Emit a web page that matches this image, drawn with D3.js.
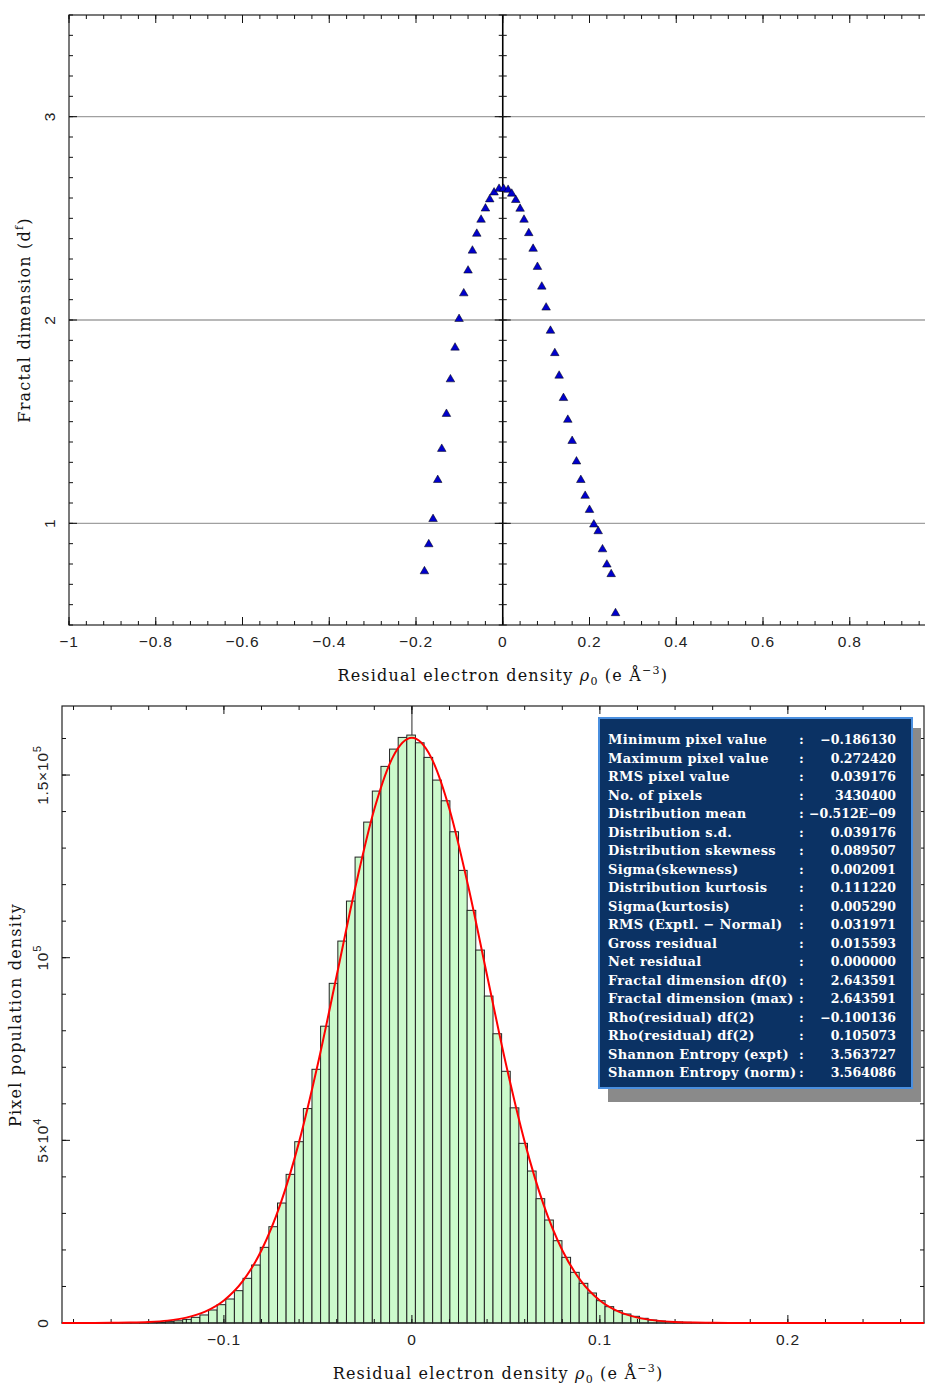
<!DOCTYPE html>
<html lang="en">
<meta charset="utf-8">
<head>
  <script src="https://d3js.org/d3.v7.min.js"></script>
</head>
<style>
  body { margin: 0; background: #fff; }
  svg { display: block; overflow: hidden; }
  .tick-lbl { font-family: "Liberation Sans Narrow", "Liberation Sans", Arial, sans-serif; font-size: 15.5px; letter-spacing: 0.8px; fill: #222; }
  .title { font-family: "DejaVu Serif", "Liberation Serif", serif; font-size: 16px; letter-spacing: 1.2px; fill: #111; }
  .stat { font-family: "DejaVu Serif", "Liberation Serif", serif; font-size: 13px; letter-spacing: 0.3px; font-weight: bold; fill: #fff; }
  .stat-val { font-family: "DejaVu Serif", "Liberation Serif", serif; font-size: 12.5px; font-weight: bold; fill: #fff; }
</style>
<body>
<div id="chart"></div>
<script>
// ---- fractal dimension vs residual density (top panel)
const fdX = [-0.1805, -0.1706, -0.1607, -0.1499, -0.1406, -0.1298, -0.1206, -0.1100, -0.1007, -0.0899,
             -0.0800, -0.0699, -0.0599, -0.0500, -0.0399, -0.0300, -0.0200, -0.0085, 0.0020, 0.0123,
             0.0207, 0.0300, 0.0400, 0.0490, 0.0600, 0.0700, 0.0800, 0.0900, 0.1000, 0.1100,
             0.1200, 0.1300, 0.1400, 0.1500, 0.1600, 0.1700, 0.1800, 0.1900, 0.2000, 0.2100,
             0.2200, 0.2300, 0.2400, 0.2500, 0.2600];
const fdY = [0.764, 0.897, 1.021, 1.213, 1.366, 1.538, 1.708, 1.864, 2.005, 2.131,
             2.243, 2.341, 2.424, 2.493, 2.548, 2.593, 2.627, 2.645, 2.645, 2.640,
             2.621, 2.590, 2.547, 2.493, 2.427, 2.350, 2.261, 2.164, 2.061, 1.947,
             1.837, 1.726, 1.616, 1.509, 1.405, 1.304, 1.213, 1.135, 1.066, 0.994,
             0.961, 0.872, 0.797, 0.750, 0.558];
const topXTicks = [-1, -0.8, -0.6, -0.4, -0.2, 0, 0.2, 0.4, 0.6, 0.8];
const topXLabels = ["\u22121", "\u22120.8", "\u22120.6", "\u22120.4", "\u22120.2", "0", "0.2", "0.4", "0.6", "0.8"];
const topYTicks = [1, 2, 3];

// ---- histogram of pixel values (bottom panel)
const binMin = -0.186130, binMax = 0.272420;
const binCounts = [1, 1, 2, 4, 6, 10, 18, 30, 50, 85,
                   140, 230, 380, 600, 1000, 1550, 2200, 3560, 5020, 6570,
                   8850, 12230, 15870, 20710, 26360, 32840, 40690, 49630, 58700, 69450,
                   81250, 92980, 104550, 115500, 127540, 137120, 145610, 152370, 157100, 160300,
                   160940, 158830, 154830, 148620, 142950, 134470, 123900, 112960, 102090, 89500,
                   79180, 68900, 58900, 49180, 41600, 34030, 28190, 22530, 17980, 13870,
                   10860, 8210, 6110, 4470, 3380, 2460, 1830, 1280, 820, 550,
                   400, 270, 190, 130, 90, 60, 42, 28, 19, 13,
                   9, 6, 4, 3, 2, 2, 1, 1, 1, 1,
                   0, 0, 1, 0, 0, 0, 0, 0, 0, 1];
// fitted normal curve
const normX = [-0.18613, -0.18, -0.17, -0.16, -0.15, -0.14, -0.13, -0.12, -0.11, -0.10,
               -0.09, -0.08, -0.07, -0.06, -0.05, -0.04, -0.03, -0.02, -0.01, 0,
               0.01, 0.02, 0.03, 0.04, 0.05, 0.06, 0.07, 0.08, 0.09, 0.10,
               0.11, 0.12, 0.13, 0.14, 0.15, 0.16, 0.17, 0.18, 0.19, 0.20,
               0.21, 0.22, 0.23, 0.24, 0.25, 0.26, 0.27, 0.27242];
const normY = [2, 4, 13, 38, 105, 270, 651, 1470, 3109, 6164,
               11450, 19920, 32460, 49580, 70950, 95120, 119480, 140620, 155050, 160190,
               155050, 140620, 119480, 95120, 70950, 49580, 32460, 19920, 11450, 6164,
               3109, 1470, 651, 270, 105, 38, 13, 4, 1, 0,
               0, 0, 0, 0, 0, 0, 0, 0];
const botXTicks = [-0.1, 0, 0.1, 0.2];
const botXLabels = ["\u22120.1", "0", "0.1", "0.2"];
const botYTicks = [0, 50000, 100000, 150000];

const statNames = ["Minimum pixel value", "Maximum pixel value", "RMS pixel value", "No. of pixels",
  "Distribution mean", "Distribution s.d.", "Distribution skewness", "Sigma(skewness)",
  "Distribution kurtosis", "Sigma(kurtosis)", "RMS (Exptl. \u2212 Normal)", "Gross residual",
  "Net residual", "Fractal dimension df(0)", "Fractal dimension (max)", "Rho(residual) df(2)",
  "Rho(residual) df(2)", "Shannon Entropy (expt)", "Shannon Entropy (norm)"];
const statValues = ["\u22120.186130", "0.272420", "0.039176", "3430400", "\u22120.512E\u221209",
  "0.039176", "0.089507", "0.002091", "0.111220", "0.005290", "0.031971", "0.015593",
  "0.000000", "2.643591", "2.643591", "\u22120.100136", "0.105073", "3.563727", "3.564086"];

const svg = d3.select("#chart").append("svg")
  .attr("width", 925).attr("height", 1387);

// little helper: tick marks along one edge
function ticks(g, vals, pos, len, orient) {
  g.selectAll(null).data(vals).enter().append("line")
    .attr("x1", d => orient === "h" ? pos(d) : len[0])
    .attr("x2", d => orient === "h" ? pos(d) : len[1])
    .attr("y1", d => orient === "h" ? len[0] : pos(d))
    .attr("y2", d => orient === "h" ? len[1] : pos(d))
    .attr("stroke", "#111").attr("stroke-width", 1);
}
function range(a, b, s) { return d3.range(Math.round(a / s), Math.round(b / s) + 1).map(i => +(i * s).toFixed(6)); }

// axis title with rho_0 and A^-3
function densityTitle(g, x, y) {
  const t = g.append("text").attr("class", "title").attr("text-anchor", "middle")
    .attr("x", x).attr("y", y);
  t.append("tspan").text("Residual electron density ");
  t.append("tspan").attr("font-style", "italic").text("\u03c1");
  t.append("tspan").attr("font-size", "11px").attr("dy", 4).text("0");
  t.append("tspan").attr("dy", -4).text(" (e \u00c5");
  t.append("tspan").attr("font-size", "11px").attr("dy", -7).text("\u22123");
  t.append("tspan").attr("dy", 7).text(")");
}

/* ================= top panel ================= */
const x1 = d3.scaleLinear().domain([-1, 1]).range([69, 936.5]);
const y1 = d3.scaleLinear().domain([0.5, 3.5]).range([625, 15]);
const topG = svg.append("g");

topG.selectAll(".grid").data(topYTicks).enter().append("line")
  .attr("x1", x1(-1)).attr("x2", x1(1))
  .attr("y1", d => y1(d)).attr("y2", d => y1(d))
  .attr("stroke", "#a0a0a0").attr("stroke-width", 1.4);

topG.append("rect")
  .attr("x", x1(-1)).attr("y", y1(3.5))
  .attr("width", x1(1) - x1(-1)).attr("height", y1(0.5) - y1(3.5))
  .attr("fill", "none").attr("stroke", "#222").attr("stroke-width", 1.2);

// x ticks bottom & top
const tMinor = range(-1, 1, 0.04);
ticks(topG, tMinor, x1, [y1(0.5), y1(0.5) - 4], "h");
ticks(topG, topXTicks, x1, [y1(0.5), y1(0.5) - 8], "h");
ticks(topG, tMinor, x1, [y1(3.5), y1(3.5) + 4], "h");
ticks(topG, topXTicks, x1, [y1(3.5), y1(3.5) + 8], "h");
// y ticks left
const yMinor1 = range(0.5, 3.5, 0.1);
ticks(topG, yMinor1, y1, [x1(-1), x1(-1) + 4], "v");
ticks(topG, topYTicks, y1, [x1(-1), x1(-1) + 8], "v");

// zero line with its own ticks
topG.append("line")
  .attr("x1", x1(0)).attr("x2", x1(0)).attr("y1", y1(3.5)).attr("y2", y1(0.5))
  .attr("stroke", "#000").attr("stroke-width", 1.6);
ticks(topG, yMinor1, y1, [x1(0) - 4, x1(0) + 4], "v");
ticks(topG, topYTicks, y1, [x1(0) - 8, x1(0) + 8], "v");

topG.selectAll(".xl").data(topXTicks).enter().append("text")
  .attr("class", "tick-lbl").attr("text-anchor", "middle")
  .attr("x", d => x1(d)).attr("y", y1(0.5) + 22)
  .text((d, i) => topXLabels[i]);
topG.selectAll(".yl").data(topYTicks).enter().append("text")
  .attr("class", "tick-lbl").attr("text-anchor", "middle")
  .attr("transform", d => `translate(${x1(-1) - 14},${y1(d)}) rotate(-90)`)
  .text(d => d);

topG.selectAll(".pt").data(fdX).enter().append("path")
  .attr("d", d3.symbol(d3.symbolTriangle, 32))
  .attr("transform", (d, i) => `translate(${x1(d)},${y1(fdY[i])})`)
  .attr("fill", "#0000cc").attr("stroke", "#000").attr("stroke-width", 0.5);

densityTitle(topG, x1(0), 681);

const yt1 = topG.append("text").attr("class", "title").attr("text-anchor", "middle")
  .attr("transform", `translate(30,${y1(2)}) rotate(-90)`);
yt1.append("tspan").text("Fractal dimension (d");
yt1.append("tspan").attr("font-size", "11px").attr("dy", -7).text("f");
yt1.append("tspan").attr("dy", 7).text(")");

/* ================= bottom panel ================= */
const x2 = d3.scaleLinear().domain([binMin, binMax]).range([62, 924]);
const y2 = d3.scaleLinear().domain([0, 168900]).range([1323, 706]);
const botG = svg.append("g");
const bw = (binMax - binMin) / binCounts.length;

botG.append("line")
  .attr("x1", x2(0)).attr("x2", x2(0)).attr("y1", y2.range()[1]).attr("y2", y2.range()[0])
  .attr("stroke", "#666").attr("stroke-width", 1.4);

botG.selectAll(".bar").data(binCounts).enter().append("rect")
  .attr("x", (d, i) => x2(binMin + i * bw))
  .attr("width", (d, i) => x2(binMin + (i + 1) * bw) - x2(binMin + i * bw))
  .attr("y", d => y2(d)).attr("height", d => y2(0) - y2(d))
  .attr("fill", "#ccfacc").attr("stroke", "#222").attr("stroke-width", 1);

botG.append("rect")
  .attr("x", 62).attr("y", 706).attr("width", 924 - 62).attr("height", 1323 - 706)
  .attr("fill", "none").attr("stroke", "#222").attr("stroke-width", 1.2);

const bMinor = range(-0.18, 0.26, 0.02);
ticks(botG, bMinor, x2, [1323, 1319], "h");
ticks(botG, botXTicks, x2, [1323, 1315], "h");
ticks(botG, bMinor, x2, [706, 710], "h");
ticks(botG, botXTicks, x2, [706, 714], "h");
const yMinor2 = range(0, 160000, 10000);
ticks(botG, yMinor2, y2, [62, 66], "v");
ticks(botG, botYTicks, y2, [62, 70], "v");
ticks(botG, yMinor2, y2, [924, 920], "v");
ticks(botG, botYTicks, y2, [924, 916], "v");

botG.append("path")
  .datum(normX.map((d, i) => [d, normY[i]]))
  .attr("d", d3.line().x(d => x2(d[0])).y(d => y2(d[1])).curve(d3.curveMonotoneX))
  .attr("fill", "none").attr("stroke", "#f00").attr("stroke-width", 2);

botG.selectAll(".xl").data(botXTicks).enter().append("text")
  .attr("class", "tick-lbl").attr("text-anchor", "middle")
  .attr("x", d => x2(d)).attr("y", 1345)
  .text((d, i) => botXLabels[i]);

// y labels with superscripts
const ylab = [[["0", ""]], [["5\u00d710", ""], ["4", "sup"]], [["10", ""], ["5", "sup"]], [["1.5\u00d710", ""], ["5", "sup"]]];
botYTicks.forEach((v, i) => {
  const t = botG.append("text").attr("class", "tick-lbl").attr("text-anchor", "middle")
    .attr("transform", `translate(${62 - 14},${y2(v)}) rotate(-90)`);
  ylab[i].forEach(p => {
    if (p[1] === "sup") t.append("tspan").attr("font-size", "11px").attr("dy", -7).text(p[0]);
    else t.append("tspan").text(p[0]);
  });
});

densityTitle(botG, 498, 1379);

botG.append("text").attr("class", "title").attr("text-anchor", "middle")
  .attr("transform", `translate(21,1015) rotate(-90)`)
  .text("Pixel population density");

// stats panel
const box = botG.append("g");
box.append("rect").attr("x", 608).attr("y", 728).attr("width", 313).attr("height", 374).attr("fill", "#8a8a8a");
box.append("rect").attr("x", 599).attr("y", 718).attr("width", 313).attr("height", 370)
  .attr("fill", "#0b3264").attr("stroke", "#4a8fdf").attr("stroke-width", 2);
statNames.forEach((n, i) => {
  const yy = 744 + i * 18.5;
  box.append("text").attr("class", "stat").attr("x", 608).attr("y", yy).text(n);
  box.append("text").attr("class", "stat").attr("x", 799).attr("y", yy).text(":");
  box.append("text").attr("class", "stat-val").attr("x", 896).attr("y", yy).attr("text-anchor", "end").text(statValues[i]);
});
</script>
</body>
</html>
